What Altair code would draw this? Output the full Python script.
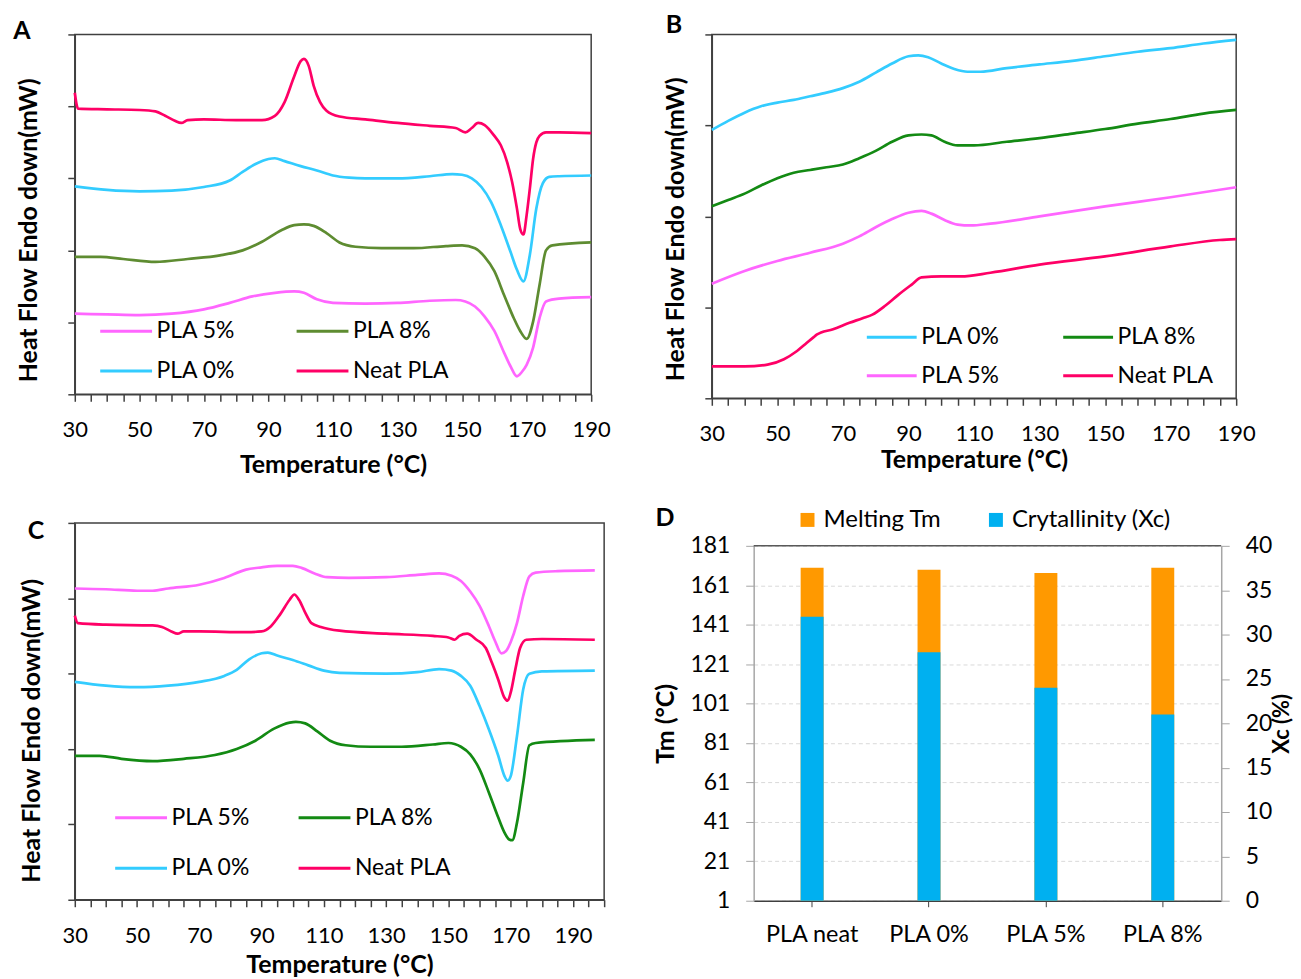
import altair as alt
import pandas as pd

FONT = "Lato"
COL_NEAT = "#FF0066"
COL_P0 = "#33CCFF"
COL_P5 = "#FF66FF"
COL_P8_A = "#5E8C31"
COL_P8 = "#138A13"

# ---------------- Panel A ----------------
A_neat_T = [30, 31, 40, 50, 55, 58, 61, 63, 65, 70, 80, 88, 92, 95, 98, 100, 101, 102.5, 104, 106,
            108, 112, 120, 130, 140, 148, 151, 153, 155, 157, 160, 162, 164, 165.5, 167, 168, 169, 170,
            171, 172, 173, 174, 176, 180, 190]
A_neat_V = [4.19, 3.97, 3.96, 3.95, 3.93, 3.87, 3.80, 3.77, 3.81, 3.82, 3.81, 3.81, 3.87, 4.06, 4.42,
            4.63, 4.66, 4.56, 4.29, 4.06, 3.94, 3.86, 3.82, 3.77, 3.73, 3.70, 3.64, 3.70, 3.77, 3.74,
            3.59, 3.46, 3.22, 2.95, 2.58, 2.30, 2.22, 2.49, 2.86, 3.27, 3.50, 3.59, 3.64, 3.64, 3.63]
A_p0_T = [30, 40, 50, 60, 70, 78, 82, 86, 90, 92, 95, 100, 105, 110, 115, 120, 130, 140, 147, 150,
          153, 156, 159, 162, 165, 167, 169, 171, 173, 175, 177, 180, 190]
A_p0_V = [2.89, 2.84, 2.82, 2.83, 2.88, 2.97, 3.09, 3.20, 3.27, 3.28, 3.24, 3.17, 3.11, 3.04, 3.01,
          3.00, 3.00, 3.03, 3.06, 3.05, 3.00, 2.88, 2.67, 2.35, 1.98, 1.73, 1.57, 1.94, 2.58, 2.93,
          3.02, 3.03, 3.04]
A_p8_T = [30, 38, 45, 55, 65, 75, 82, 88, 94, 98, 101, 104, 108, 112, 117, 125, 135, 145, 150, 154,
          157, 160, 163, 166, 168, 170, 172, 174, 176, 178, 190]
A_p8_V = [1.91, 1.91, 1.88, 1.84, 1.88, 1.93, 2.00, 2.12, 2.28, 2.35, 2.36, 2.34, 2.24, 2.11, 2.05,
          2.03, 2.03, 2.06, 2.07, 2.03, 1.91, 1.71, 1.38, 1.06, 0.88, 0.77, 1.01, 1.52, 2.00, 2.07, 2.11]
A_p5_T = [30, 40, 50, 60, 70, 78, 85, 92, 98, 101, 105, 110, 120, 130, 140, 148, 151, 154, 157, 160,
          163, 165, 167, 168.5, 170, 172, 174, 176, 180, 190]
A_p5_V = [1.12, 1.11, 1.10, 1.12, 1.18, 1.27, 1.36, 1.41, 1.43, 1.41, 1.32, 1.27, 1.26, 1.27, 1.30,
          1.31, 1.29, 1.22, 1.08, 0.88, 0.58, 0.39, 0.25, 0.31, 0.41, 0.65, 1.06, 1.29, 1.33, 1.35]

# ---------------- Panel B ----------------
B_p0_T = [30, 35, 40, 45, 50, 55, 60, 65, 70, 75, 80, 85, 90, 93, 96, 100, 104, 108, 112, 120, 130,
          140, 150, 160, 170, 180, 190]
B_p0_V = [2.95, 3.05, 3.14, 3.21, 3.25, 3.28, 3.32, 3.36, 3.41, 3.48, 3.58, 3.68, 3.76, 3.77, 3.75,
          3.68, 3.62, 3.59, 3.59, 3.63, 3.67, 3.71, 3.76, 3.81, 3.85, 3.90, 3.94]
B_p8_T = [30, 35, 40, 45, 50, 55, 60, 65, 70, 75, 80, 85, 90, 94, 97, 101, 105, 110, 120, 130, 140,
          150, 160, 170, 180, 190]
B_p8_V = [2.11, 2.18, 2.25, 2.34, 2.42, 2.48, 2.51, 2.54, 2.57, 2.64, 2.72, 2.82, 2.89, 2.90, 2.89,
          2.82, 2.78, 2.78, 2.82, 2.86, 2.91, 2.96, 3.02, 3.07, 3.13, 3.17]
B_p5_T = [30, 40, 50, 60, 70, 75, 80, 85, 90, 94, 97, 101, 105, 109, 115, 130, 150, 170, 190]
B_p5_V = [1.26, 1.40, 1.51, 1.60, 1.70, 1.78, 1.88, 1.97, 2.04, 2.06, 2.03, 1.96, 1.91, 1.90, 1.92,
          2.00, 2.11, 2.21, 2.32]
B_neat_T = [30, 40, 47, 52, 56, 59, 61, 62, 67, 72, 76, 79, 83, 87, 91, 94, 100, 106, 115, 130, 150,
            170, 185, 190]
B_neat_V = [0.35, 0.35, 0.37, 0.43, 0.52, 0.61, 0.67, 0.70, 0.76, 0.83, 0.88, 0.92, 1.02, 1.14, 1.25,
            1.33, 1.34, 1.34, 1.38, 1.47, 1.56, 1.67, 1.74, 1.75]

# ---------------- Panel C ----------------
C_p5_T = [30, 40, 50, 55, 60, 70, 78, 85, 90, 95, 100, 103, 107, 111, 118, 130, 140, 147, 151, 154,
          157, 160, 163, 165, 167, 168.5, 170, 172, 174, 176, 178, 185, 197]
C_p5_V = [4.13, 4.12, 4.10, 4.10, 4.13, 4.18, 4.27, 4.38, 4.41, 4.43, 4.43, 4.40, 4.33, 4.28, 4.27,
          4.28, 4.31, 4.33, 4.30, 4.23, 4.09, 3.90, 3.63, 3.43, 3.27, 3.30, 3.42, 3.67, 4.03, 4.29,
          4.34, 4.36, 4.37]
C_neat_T = [30, 31, 40, 55, 58, 61, 63, 65, 70, 85, 90, 93, 96, 99, 100.5, 102, 104, 106, 109, 115,
            130, 145, 150, 152, 153.5, 156, 159, 162, 164, 166, 168, 169, 170, 171.5, 173, 175, 180, 197]
C_neat_V = [3.77, 3.67, 3.65, 3.64, 3.62, 3.56, 3.53, 3.56, 3.56, 3.55, 3.56, 3.63, 3.79, 3.98, 4.05,
            3.98, 3.81, 3.67, 3.62, 3.57, 3.53, 3.50, 3.48, 3.45, 3.50, 3.53, 3.45, 3.34, 3.14, 2.92,
            2.68, 2.64, 2.75, 3.06, 3.34, 3.45, 3.46, 3.45]
C_p0_T = [30, 40, 50, 60, 70, 78, 82, 86, 90, 92, 95, 100, 105, 110, 115, 130, 140, 147, 151, 154,
          157, 160, 163, 166, 168, 169, 170, 172, 174, 176, 180, 197]
C_p0_V = [2.89, 2.84, 2.82, 2.84, 2.89, 2.97, 3.05, 3.19, 3.27, 3.28, 3.24, 3.18, 3.11, 3.04, 3.01,
          3.00, 3.02, 3.06, 3.04, 2.97, 2.84, 2.57, 2.26, 1.91, 1.64, 1.58, 1.64, 2.17, 2.79, 3.00,
          3.03, 3.04]
C_p8_T = [30, 38, 45, 55, 65, 75, 82, 88, 94, 99, 101, 104, 108, 112, 117, 125, 135, 145, 150, 154,
          157, 160, 163, 166, 168, 169.5, 170.5, 172, 174, 176, 178, 197]
C_p8_V = [1.91, 1.91, 1.87, 1.84, 1.87, 1.92, 2.00, 2.11, 2.27, 2.35, 2.36, 2.34, 2.23, 2.11, 2.05,
          2.03, 2.03, 2.06, 2.08, 2.03, 1.93, 1.73, 1.42, 1.09, 0.89, 0.80, 0.79, 1.02, 1.55, 2.05,
          2.08, 2.12]

# ---------------- Panel D ----------------
D_cat = ["PLA neat", "PLA  0%", "PLA 5%", "PLA 8%"]
D_tm = [169.9, 168.9, 167.2, 169.9]
D_xc = [32.0, 28.0, 24.0, 21.0]
D_left_ticks = [1, 21, 41, 61, 81, 101, 121, 141, 161, 181]
D_right_ticks = [0, 5, 10, 15, 20, 25, 30, 35, 40]
D_series = ["Melting Tm", "Crytallinity (Xc)"]

TITLE_SIZE = 25


def long_df(series):
    rows = []
    for name, T, V in series:
        for t, v in zip(T, V):
            rows.append({"series": name, "T": t, "v": v})
    return pd.DataFrame(rows)


def letter(ch, x, y):
    return alt.Chart(pd.DataFrame({"t": [ch]})).mark_text(
        font=FONT, fontSize=25, fontWeight="bold", align="center", baseline="middle", color="black"
    ).encode(text="t:N", x=alt.value(x), y=alt.value(y))


def line_panel(series, order, colors, xmax, ymax, width, height, leg, ytitle_pad, ytitle_y,
               xlab_pad, xtitle_pad, let, let_x, let_y):
    df = long_df(series)
    xaxis = alt.Axis(
        values=list(range(30, xmax + 1, 5)),
        labelExpr="(datum.value - 30) % 20 == 0 ? datum.label : ''",
        labelOverlap=False, labelFlush=False, tickSize=7, tickColor="#404040", tickWidth=1.5,
        domainColor="#404040", domainWidth=1.5, labelFontSize=22, labelFont=FONT,
        labelPadding=xlab_pad, grid=False, title="Temperature (°C)", titleFontSize=TITLE_SIZE,
        titleFont=FONT, titleFontWeight="bold", titlePadding=xtitle_pad,
    )
    yaxis = alt.Axis(
        values=list(range(0, ymax + 1)), labels=False, grid=False, tickSize=7,
        tickColor="#404040", tickWidth=1.5, domainColor="#404040", domainWidth=1.5,
        title="Heat Flow Endo down(mW)", titleFontSize=TITLE_SIZE, titleFont=FONT,
        titleFontWeight="bold", titlePadding=ytitle_pad, titleY=ytitle_y,
    )
    lines = alt.Chart(df).mark_line(strokeWidth=2.7, interpolate="monotone").encode(
        x=alt.X("T:Q", scale=alt.Scale(domain=[30, xmax], nice=False, zero=False), axis=xaxis),
        y=alt.Y("v:Q", scale=alt.Scale(domain=[0, ymax], nice=False, zero=False), axis=yaxis),
        color=alt.Color(
            "series:N",
            scale=alt.Scale(domain=order, range=colors),
            legend=alt.Legend(
                orient="none", legendX=leg[0], legendY=leg[1], columns=2, direction="horizontal",
                symbolType="stroke", symbolSize=leg[4], symbolStrokeWidth=3, labelFontSize=23,
                labelFont=FONT, labelColor="black", labelOffset=3, columnPadding=leg[2],
                rowPadding=leg[3], labelLimit=300, title=None,
            ),
        ),
    )
    return alt.layer(lines, letter(let, let_x, let_y)).properties(
        width=width, height=height,
        view=alt.ViewBackground(stroke="#404040", strokeWidth=1.5),
    )


A = line_panel(
    [("Neat PLA", A_neat_T, A_neat_V), ("PLA 0%", A_p0_T, A_p0_V),
     ("PLA 8%", A_p8_T, A_p8_V), ("PLA 5%", A_p5_T, A_p5_V)],
    ["PLA 5%", "PLA 8%", "PLA 0%", "Neat PLA"], [COL_P5, COL_P8_A, COL_P0, COL_NEAT],
    190, 5, 518, 361, (24, 270, 55, 0, 2704), 25.5, 196, 18, 12, "A", -53, -3,
)
B = line_panel(
    [("Neat PLA", B_neat_T, B_neat_V), ("PLA 0%", B_p0_T, B_p0_V),
     ("PLA 8%", B_p8_T, B_p8_V), ("PLA 5%", B_p5_T, B_p5_V)],
    ["PLA 0%", "PLA 8%", "PLA 5%", "Neat PLA"], [COL_P0, COL_P8, COL_P5, COL_NEAT],
    190, 4, 526, 365, (154, 277, 57, 0, 2500), 15.5, 195, 18, 3, "B", -38, -9,
)
C = line_panel(
    [("Neat PLA", C_neat_T, C_neat_V), ("PLA 0%", C_p0_T, C_p0_V),
     ("PLA 8%", C_p8_T, C_p8_V), ("PLA 5%", C_p5_T, C_p5_V)],
    ["PLA 5%", "PLA 8%", "PLA 0%", "Neat PLA"], [COL_P5, COL_P8, COL_P0, COL_NEAT],
    200, 5, 531, 378, (39, 268, 42, 11, 2704), 22.5, 208, 19, 6, "C", -39, 8,
)

# ---------------- Panel D chart ----------------
D_H = 379
D_TOP = 23
dfD = pd.DataFrame({"cat": D_cat, "tm": D_tm, "xc": D_xc,
                    "s_tm": D_series[0], "s_xc": D_series[1]})

xD = alt.X("cat:N", scale=alt.Scale(domain=D_cat, paddingInner=0, paddingOuter=0),
           axis=alt.Axis(title=None, labelAngle=0, labelFontSize=23.5, labelFont=FONT,
                         tickSize=6, tickColor="#404040", domainColor="#404040", domainWidth=1.5,
                         labelPadding=16, grid=False))
color_scale = alt.Scale(domain=D_series, range=["#FF9900", "#00B0F0"])

orange = alt.Chart(dfD).mark_bar(size=23).encode(
    x=xD,
    y=alt.Y("tm:Q", scale=alt.Scale(domain=[1, 181], range=[D_H, D_TOP], nice=False, zero=False),
            axis=alt.Axis(values=D_left_ticks, grid=True, gridDash=[4, 3], gridColor="#D9D9D9",
                          tickSize=8, tickColor="#A6A6A6", domainColor="#A6A6A6", domainWidth=1.5,
                          labelFontSize=23, labelFont=FONT, labelPadding=16, title="Tm (°C)",
                          titleFontSize=TITLE_SIZE, titleFont=FONT, titleFontWeight="bold",
                          titlePadding=11)),
    y2=alt.datum(1),
    color=alt.Color("s_tm:N", scale=color_scale,
                    legend=alt.Legend(orient="none", legendX=42, legendY=-15,
                                      direction="horizontal", symbolType="square",
                                      symbolSize=196, symbolStrokeWidth=0, labelFontSize=24,
                                      labelFont=FONT, labelColor="black", labelOffset=4,
                                      columnPadding=42, labelLimit=300, title=None)),
)
blue = alt.Chart(dfD).mark_bar(size=23).encode(
    x=xD,
    y=alt.Y("xc:Q", scale=alt.Scale(domain=[0, 40], range=[D_H, D_TOP], nice=False, zero=False),
            axis=alt.Axis(orient="right", values=D_right_ticks, grid=False, tickSize=8,
                          tickColor="#A6A6A6", domainColor="#A6A6A6", domainWidth=1.5,
                          labelFontSize=23, labelFont=FONT, labelPadding=16, title="Xc (%)",
                          titleFontSize=22, titleFont=FONT, titleFontWeight="bold",
                          titleAngle=270, titleBaseline="top", titleX=50)),
    y2=alt.datum(0),
    color=alt.Color("s_xc:N", scale=color_scale),
)
top_rule = alt.Chart(pd.DataFrame({"v": [D_left_ticks[-1]]})).mark_rule(
    color="#595959", strokeWidth=1.5
).encode(y=alt.Y("v:Q", scale=alt.Scale(domain=[1, 181], range=[D_H, D_TOP], nice=False,
                                         zero=False), axis=None))

D = alt.layer(orange, blue, top_rule, letter("D", -89, -5)).resolve_scale(
    y="independent"
).properties(width=469, height=D_H, view=alt.ViewBackground(stroke="transparent"))

top = alt.hconcat(A, B, spacing=121, bounds="flush").resolve_scale(color="independent")
bottom = alt.hconcat(C, D, spacing=150, bounds="flush").resolve_scale(color="independent")
chart = alt.vconcat(top, bottom, spacing=490, bounds="flush").resolve_scale(
    color="independent"
).properties(
    padding={"left": 4, "top": 3, "right": 0, "bottom": 0}
).configure_axis(labelColor="black", titleColor="black")

chart.save("out.html", embed_options={"renderer": "svg", "actions": False})
